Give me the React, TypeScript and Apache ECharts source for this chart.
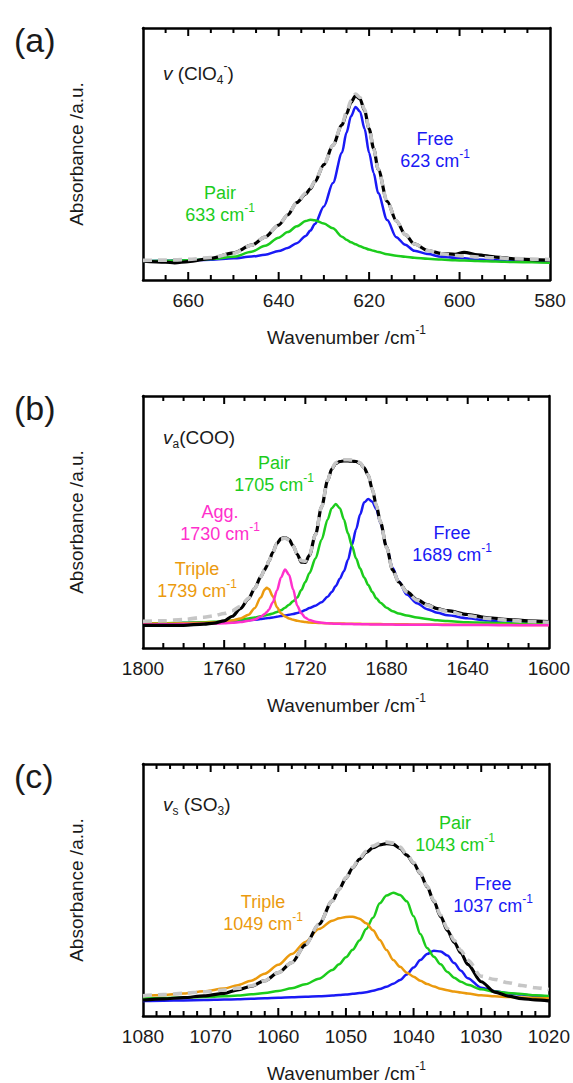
import React, { useEffect, useRef } from 'react';
import * as echarts from 'echarts';

// ---- (a) ν(ClO4-) region ----
const wnA = [670, 665, 663, 660, 655, 650, 646, 643, 640, 638, 636, 634, 633, 632, 630, 628, 626, 625, 624, 623, 622, 621, 620, 619, 618, 616, 614, 612, 610, 607, 604, 601, 599, 596, 592, 588, 584, 580];
const freeA = [0.075, 0.076, 0.077, 0.078, 0.080, 0.086, 0.093, 0.100, 0.115, 0.127, 0.146, 0.175, 0.196, 0.222, 0.292, 0.385, 0.505, 0.585, 0.650, 0.687, 0.668, 0.600, 0.505, 0.425, 0.345, 0.238, 0.170, 0.140, 0.116, 0.103, 0.092, 0.088, 0.086, 0.081, 0.078, 0.075, 0.073, 0.071];
const pairA = [0.075, 0.076, 0.077, 0.078, 0.083, 0.092, 0.112, 0.136, 0.168, 0.190, 0.213, 0.234, 0.239, 0.237, 0.224, 0.205, 0.172, 0.160, 0.150, 0.142, 0.134, 0.127, 0.121, 0.116, 0.111, 0.102, 0.096, 0.092, 0.088, 0.084, 0.081, 0.078, 0.077, 0.075, 0.073, 0.071, 0.070, 0.068];
const measA = [0.075, 0.071, 0.068, 0.073, 0.086, 0.108, 0.138, 0.170, 0.218, 0.258, 0.307, 0.342, 0.362, 0.390, 0.458, 0.535, 0.615, 0.659, 0.705, 0.731, 0.718, 0.672, 0.600, 0.522, 0.440, 0.312, 0.235, 0.180, 0.143, 0.117, 0.105, 0.102, 0.110, 0.100, 0.091, 0.084, 0.081, 0.079];
const fitA = [0.078, 0.079, 0.080, 0.082, 0.089, 0.106, 0.138, 0.170, 0.218, 0.258, 0.307, 0.345, 0.366, 0.392, 0.458, 0.535, 0.618, 0.665, 0.712, 0.738, 0.724, 0.676, 0.602, 0.522, 0.440, 0.312, 0.235, 0.180, 0.143, 0.117, 0.104, 0.098, 0.095, 0.091, 0.088, 0.085, 0.083, 0.081];

// ---- (b) νa(COO) region ----
const wnB = [1800, 1790, 1780, 1770, 1765, 1760, 1756, 1752, 1748, 1745, 1742, 1740, 1739, 1738, 1736, 1734, 1732, 1730, 1728, 1726, 1724, 1722, 1720, 1718, 1715, 1712, 1709, 1707, 1705, 1703, 1701, 1699, 1697, 1695, 1693, 1691, 1689, 1687, 1685, 1683, 1680, 1677, 1674, 1670, 1665, 1660, 1655, 1650, 1640, 1630, 1620, 1610, 1600];
const tripleB = [0.097, 0.097, 0.098, 0.100, 0.102, 0.105, 0.109, 0.117, 0.132, 0.158, 0.200, 0.232, 0.239, 0.234, 0.205, 0.162, 0.138, 0.125, 0.117, 0.112, 0.108, 0.105, 0.103, 0.101, 0.100, 0.099, 0.098, 0.098, 0.097, 0.097, 0.097, 0.096, 0.096, 0.096, 0.096, 0.095, 0.095, 0.095, 0.095, 0.095, 0.094, 0.094, 0.094, 0.094, 0.093, 0.093, 0.093, 0.093, 0.092, 0.092, 0.092, 0.091, 0.091];
const aggB = [0.093, 0.094, 0.095, 0.096, 0.097, 0.098, 0.100, 0.103, 0.108, 0.113, 0.124, 0.135, 0.143, 0.152, 0.182, 0.228, 0.280, 0.312, 0.290, 0.232, 0.168, 0.138, 0.120, 0.111, 0.104, 0.100, 0.098, 0.097, 0.096, 0.096, 0.095, 0.095, 0.095, 0.094, 0.094, 0.094, 0.094, 0.093, 0.093, 0.093, 0.093, 0.093, 0.092, 0.092, 0.092, 0.092, 0.092, 0.091, 0.091, 0.091, 0.090, 0.090, 0.090];
const pairB = [0.097, 0.098, 0.100, 0.102, 0.104, 0.107, 0.109, 0.113, 0.117, 0.121, 0.126, 0.129, 0.131, 0.133, 0.137, 0.143, 0.150, 0.160, 0.172, 0.186, 0.200, 0.230, 0.262, 0.297, 0.355, 0.430, 0.510, 0.555, 0.571, 0.555, 0.510, 0.455, 0.405, 0.355, 0.315, 0.280, 0.250, 0.222, 0.197, 0.180, 0.160, 0.146, 0.137, 0.129, 0.121, 0.115, 0.110, 0.107, 0.102, 0.100, 0.098, 0.097, 0.096];
const freeB = [0.097, 0.098, 0.099, 0.101, 0.102, 0.104, 0.106, 0.108, 0.110, 0.112, 0.115, 0.117, 0.118, 0.119, 0.121, 0.124, 0.127, 0.129, 0.132, 0.135, 0.139, 0.144, 0.151, 0.159, 0.168, 0.182, 0.203, 0.222, 0.246, 0.275, 0.305, 0.350, 0.410, 0.471, 0.530, 0.578, 0.591, 0.580, 0.550, 0.495, 0.400, 0.318, 0.265, 0.212, 0.178, 0.154, 0.140, 0.130, 0.118, 0.109, 0.105, 0.102, 0.100];
const measB = [0.090, 0.090, 0.090, 0.095, 0.099, 0.108, 0.126, 0.156, 0.195, 0.236, 0.282, 0.311, 0.325, 0.345, 0.380, 0.415, 0.434, 0.438, 0.430, 0.405, 0.372, 0.341, 0.340, 0.368, 0.450, 0.560, 0.665, 0.710, 0.732, 0.740, 0.742, 0.742, 0.741, 0.740, 0.733, 0.715, 0.685, 0.630, 0.565, 0.500, 0.400, 0.310, 0.262, 0.224, 0.192, 0.172, 0.156, 0.148, 0.133, 0.120, 0.113, 0.108, 0.105];
const fitB = [0.106, 0.108, 0.113, 0.122, 0.128, 0.137, 0.148, 0.165, 0.197, 0.236, 0.282, 0.311, 0.325, 0.345, 0.380, 0.415, 0.432, 0.436, 0.428, 0.405, 0.374, 0.346, 0.344, 0.370, 0.450, 0.560, 0.665, 0.712, 0.735, 0.745, 0.747, 0.747, 0.746, 0.744, 0.735, 0.715, 0.685, 0.630, 0.565, 0.500, 0.400, 0.312, 0.262, 0.222, 0.190, 0.170, 0.154, 0.145, 0.128, 0.117, 0.110, 0.105, 0.102];

// ---- (c) νs(SO3) region ----
const wnC = [1080, 1077, 1074, 1071, 1068, 1066, 1064, 1062, 1060, 1058, 1056, 1054, 1052, 1051, 1050, 1049, 1048, 1047, 1046, 1045, 1044, 1043, 1042, 1041, 1040, 1039, 1038, 1037, 1036, 1035, 1034, 1033, 1032, 1030, 1028, 1026, 1024, 1022, 1020];
const tripleC = [0.079, 0.083, 0.089, 0.098, 0.109, 0.122, 0.140, 0.168, 0.203, 0.246, 0.294, 0.345, 0.378, 0.388, 0.393, 0.394, 0.386, 0.368, 0.340, 0.302, 0.262, 0.222, 0.195, 0.172, 0.156, 0.140, 0.127, 0.117, 0.108, 0.102, 0.097, 0.093, 0.089, 0.082, 0.078, 0.075, 0.073, 0.071, 0.070];
const pairC = [0.070, 0.071, 0.073, 0.075, 0.078, 0.081, 0.086, 0.091, 0.099, 0.110, 0.126, 0.148, 0.183, 0.205, 0.233, 0.263, 0.300, 0.345, 0.390, 0.447, 0.478, 0.489, 0.480, 0.455, 0.396, 0.325, 0.270, 0.235, 0.205, 0.175, 0.152, 0.136, 0.124, 0.106, 0.097, 0.091, 0.087, 0.082, 0.079];
const freeC = [0.060, 0.061, 0.062, 0.063, 0.065, 0.066, 0.068, 0.070, 0.072, 0.074, 0.076, 0.078, 0.081, 0.083, 0.085, 0.088, 0.091, 0.094, 0.100, 0.107, 0.116, 0.128, 0.143, 0.165, 0.192, 0.222, 0.246, 0.259, 0.256, 0.240, 0.210, 0.180, 0.150, 0.112, 0.098, 0.090, 0.085, 0.080, 0.077];
const measC = [0.063, 0.068, 0.073, 0.080, 0.090, 0.104, 0.118, 0.140, 0.172, 0.212, 0.282, 0.364, 0.457, 0.503, 0.547, 0.588, 0.622, 0.649, 0.668, 0.679, 0.684, 0.681, 0.665, 0.638, 0.607, 0.565, 0.513, 0.455, 0.395, 0.340, 0.292, 0.250, 0.205, 0.136, 0.095, 0.079, 0.069, 0.064, 0.060];
const fitC = [0.080, 0.085, 0.090, 0.096, 0.103, 0.110, 0.120, 0.140, 0.172, 0.212, 0.282, 0.364, 0.457, 0.503, 0.549, 0.590, 0.626, 0.654, 0.674, 0.686, 0.690, 0.686, 0.670, 0.642, 0.609, 0.567, 0.515, 0.458, 0.400, 0.347, 0.300, 0.260, 0.222, 0.158, 0.145, 0.132, 0.121, 0.112, 0.105];

// axis ranges: labelled step and minor tick step
const axisA = { min: 580, max: 670, interval: 20, minorStep: 5 };
const axisB = { min: 1600, max: 1800, interval: 40, minorStep: 10 };
const axisC = { min: 1020, max: 1080, interval: 10, minorStep: 2 };

const FONT = 'Arial, "Liberation Sans", Helvetica, sans-serif';
const BLUE = '#1a1af5';
const GREEN = '#1ccc1c';
const MAGENTA = '#ff30cc';
const ORANGE = '#eb9a0e';
const INK = '#1a1a1a';

const pairs = (x: number[], y: number[]) => x.map((v, i) => [v, y[i]]);

// tick positions inside the frame, flagged 1 for labelled ticks
const tickList = (ax: { min: number; max: number; interval: number; minorStep: number }) => {
  const out: number[][] = [];
  for (let v = ax.min + ax.minorStep; v < ax.max - 1e-9; v += ax.minorStep) {
    const r = Math.round(v * 1000) / 1000;
    const major = Math.abs((r - ax.min) % ax.interval) < 1e-6 ? 1 : 0;
    out.push([r, major]);
  }
  return out;
};

export default function App() {
  const ref = useRef<HTMLDivElement>(null);

  useEffect(() => {
    const chart = echarts.init(ref.current!, null, { renderer: 'svg' });

    const boxLeft = 143;
    const boxW = 407;
    const boxH = 252;
    const tops = [28, 396, 764];
    const axes = [axisA, axisB, axisC];
    const frameLine = () => ({ show: true, onZero: false, lineStyle: { color: '#000', width: 2.5 } });

    const grids = tops.map((t) => ({ left: boxLeft, top: t, width: boxW, height: boxH, show: false }));

    // per panel: bottom axis (labels + frame edge), top axis (frame edge)
    const xAxes: any[] = [];
    axes.forEach((ax, g) => {
      const scale = {
        gridIndex: g,
        type: 'value',
        min: ax.min,
        max: ax.max,
        interval: ax.interval,
        inverse: true,
        splitLine: { show: false },
        axisTick: { show: false },
        minorTick: { show: false },
      };
      xAxes.push({
        ...scale,
        position: 'bottom',
        axisLine: frameLine(),
        axisLabel: {
          show: true,
          margin: 11,
          fontSize: 19,
          fontFamily: FONT,
          color: INK,
          formatter: (v: number) => ((v - ax.min) % ax.interval === 0 ? String(v) : ''),
        },
      });
      xAxes.push({ ...scale, position: 'top', axisLine: frameLine(), axisLabel: { show: false } });
    });

    // left and right y axes close the frame
    const yAxes: any[] = [];
    tops.forEach((_, g) => {
      ['left', 'right'].forEach((pos) => {
        yAxes.push({
          gridIndex: g,
          type: 'value',
          min: 0,
          max: 1,
          position: pos,
          axisLine: frameLine(),
          axisTick: { show: false },
          axisLabel: { show: false },
          splitLine: { show: false },
        });
      });
    });

    const line = (name: string, g: number, x: number[], y: number[], lineStyle: any) => ({
      name,
      type: 'line',
      xAxisIndex: g * 2,
      yAxisIndex: g * 2,
      data: pairs(x, y),
      showSymbol: false,
      smooth: 0.3,
      smoothMonotone: 'x',
      lineStyle,
      silent: true,
    });
    const comp = (name: string, g: number, x: number[], y: number[], color: string) =>
      line(name, g, x, y, { color, width: 2.5 });
    const meas = (g: number, x: number[], y: number[]) => line('measured', g, x, y, { color: '#000', width: 3.2 });
    const fit = (g: number, x: number[], y: number[]) =>
      line('fit', g, x, y, { color: '#c6c6c6', width: 3.6, type: [9, 6] });

    // inward ticks on the top and bottom frame edges, placed through the x scale
    const ticks = (g: number) => ({
      name: 'ticks',
      type: 'custom',
      xAxisIndex: g * 2,
      yAxisIndex: g * 2,
      silent: true,
      z: 5,
      data: tickList(axes[g]),
      renderItem: (_params: any, api: any) => {
        const v = api.value(0);
        const len = api.value(1) ? 8 : 5;
        const pb = api.coord([v, 0]);
        const pt = api.coord([v, 1]);
        const st = { stroke: '#000', lineWidth: 2 };
        return {
          type: 'group',
          children: [
            { type: 'line', shape: { x1: pb[0], y1: pb[1], x2: pb[0], y2: pb[1] - len }, style: st },
            { type: 'line', shape: { x1: pt[0], y1: pt[1], x2: pt[0], y2: pt[1] + len }, style: st },
          ],
        };
      },
    });

    const series = [
      comp('Free', 0, wnA, freeA, BLUE),
      comp('Pair', 0, wnA, pairA, GREEN),
      meas(0, wnA, measA),
      fit(0, wnA, fitA),
      ticks(0),

      comp('Free', 1, wnB, freeB, BLUE),
      comp('Pair', 1, wnB, pairB, GREEN),
      comp('Triple', 1, wnB, tripleB, ORANGE),
      comp('Agg.', 1, wnB, aggB, MAGENTA),
      meas(1, wnB, measB),
      fit(1, wnB, fitB),
      ticks(1),

      comp('Free', 2, wnC, freeC, BLUE),
      comp('Pair', 2, wnC, pairC, GREEN),
      comp('Triple', 2, wnC, tripleC, ORANGE),
      meas(2, wnC, measC),
      fit(2, wnC, fitC),
      ticks(2),
    ];

    const richBase = (size: number, color: string) => ({
      sup: { fontSize: 12, verticalAlign: 'top', fill: color, fontFamily: FONT },
      sub: { fontSize: 12, verticalAlign: 'bottom', fill: color, fontFamily: FONT },
      i: { fontSize: size, fontStyle: 'italic', fill: color, fontFamily: FONT },
    });

    const txt = (text: string, x: number, y: number, color: string, size: number, align = 'center', extra: any = {}) => ({
      type: 'text',
      x,
      y,
      silent: true,
      ...extra,
      style: {
        text,
        fill: color,
        fontSize: size,
        fontFamily: FONT,
        lineHeight: 26,
        align,
        verticalAlign: 'middle',
        rich: richBase(size, color),
      },
    });

    const graphics: any[] = [];
    const labels = ['(a)', '(b)', '(c)'];
    const modes = ['{i|v} (ClO{sub|4}{sup|-})', '{i|v}{sub|a}(COO)', '{i|v}{sub|s} (SO{sub|3})'];
    const modeY = [73, 437, 804];
    tops.forEach((t, g) => {
      graphics.push(txt(labels[g], 14, t + 12, INK, 34, 'left'));
      graphics.push(txt('Wavenumber /cm{sup|-1}', boxLeft + boxW / 2, t + 309, INK, 19));
      graphics.push(txt('Absorbance /a.u.', 76, t + 126, INK, 19, 'center', { rotation: Math.PI / 2 }));
      graphics.push(txt(modes[g], 163, modeY[g], INK, 19, 'left'));
    });

    // peak assignments
    const notes: [string, string, number, number, string][] = [
      ['Pair', '633', 220, 193, GREEN],
      ['Free', '623', 435, 139, BLUE],
      ['Pair', '1705', 274, 463, GREEN],
      ['Agg.', '1730', 220, 512, MAGENTA],
      ['Triple', '1739', 197, 569, ORANGE],
      ['Free', '1689', 452, 533, BLUE],
      ['Pair', '1043', 455, 823, GREEN],
      ['Free', '1037', 493, 884, BLUE],
      ['Triple', '1049', 263, 902, ORANGE],
    ];
    notes.forEach(([name, wn, x, y, color]) => {
      graphics.push(txt(name, x, y, color, 18));
      graphics.push(txt(`${wn} cm{sup|-1}`, x, y + 22, color, 18));
    });

    chart.setOption({
      animation: false,
      grid: grids,
      xAxis: xAxes,
      yAxis: yAxes,
      series,
      graphic: graphics,
    });

    return () => chart.dispose();
  }, []);

  return (
    <div
      ref={ref}
      style={{ position: 'absolute', left: 0, top: 0, width: 573, height: 1083, background: '#fff' }}
    />
  );
}
